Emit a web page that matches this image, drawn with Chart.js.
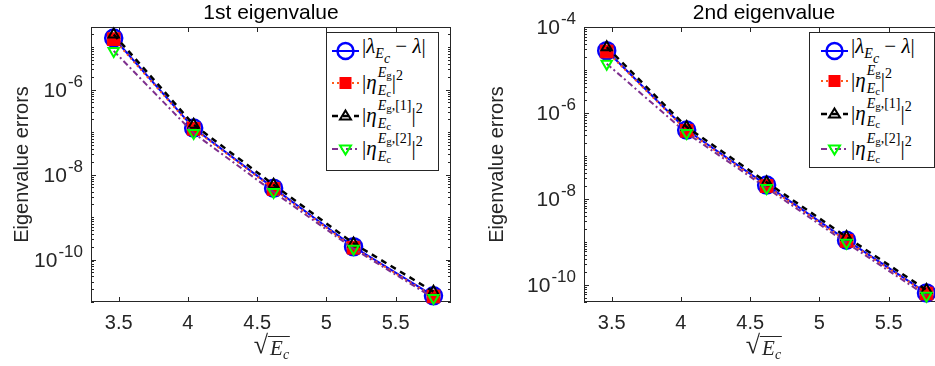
<!DOCTYPE html>
<html>
<head>
<meta charset="utf-8">
<script src="https://cdn.jsdelivr.net/npm/chart.js@4/dist/chart.umd.min.js"></script>
<style>
  html, body { margin: 0; padding: 0; background: #fff; overflow: hidden; width: 935px; height: 366px; }
  canvas { position: absolute; top: 0; }
  .leg { position: absolute; border: 1px solid #262626; background: #fff; box-sizing: border-box; }
  .row { position: absolute; left: 0; height: 32px; display: flex; align-items: center; }
  .row svg { flex: none; }
  .m { font-family: 'Liberation Serif', 'DejaVu Serif', serif; font-size: 21px; line-height: 1; white-space: nowrap; color: #000; margin-left: 3px; }
  .m sub { font-size: 14px; vertical-align: -5px; }
  .ss { display: inline-block; vertical-align: -6px; font-size: 14px; line-height: 15px; margin-left: 1px; }
  .ss span { display: block; }
  .ss sub { font-size: 11px; vertical-align: -2px; }
  .sq { font-size: 14px; vertical-align: 9px; }
  .xl { position: absolute; top: 332px; display: flex; align-items: flex-start; font-family: 'Liberation Serif', 'DejaVu Serif', serif; color: #262626; white-space: nowrap; transform: translateX(-50%); }
  .xl .rt { font-size: 26px; line-height: 26px; }
  .xl .rad { display: inline-block; margin-top: 4px; border-top: 1.3px solid #262626; padding: 1px 1px 0 2px; font-style: italic; font-size: 21px; line-height: 20px; }
  .xl sub { font-size: 14px; vertical-align: -4px; font-style: italic; }
</style>
</head>
<body>
<canvas id="c1" width="470" height="366" style="left:0px"></canvas>
<canvas id="c2" width="500" height="366" style="left:470px"></canvas>

<div class="xl" style="left:272px"><span class="rt">√</span><span class="rad">E<sub>c</sub></span></div>
<div class="xl" style="left:764px"><span class="rt">√</span><span class="rad">E<sub>c</sub></span></div>

<script>
// sqrt(E_c) values on the x axis
const sqrtEc = [3.4641, 4.0415, 4.6188, 5.1962, 5.7735];
const xTickValues = [3.5, 4, 4.5, 5, 5.5];

// 1st eigenvalue
const lambdaErr1 = [1.65e-5, 1.25e-7, 4.8e-9, 2.0e-10, 1.4e-11];
const etaG1 = [1.55e-5, 1.2e-7, 4.6e-9, 1.9e-10, 1.35e-11];
const etaG1Iter1 = [2.0e-5, 1.5e-7, 5.8e-9, 2.4e-10, 1.75e-11];
const etaG1Iter2 = [8.2e-6, 9.5e-8, 3.9e-9, 1.8e-10, 1.25e-11];
const yTickExp1 = [-10, -8, -6];

// 2nd eigenvalue
const lambdaErr2 = [2.8e-5, 4.0e-7, 2.1e-8, 1.1e-9, 6.5e-11];
const etaG2 = [2.7e-5, 3.85e-7, 2.0e-8, 1.06e-9, 6.3e-11];
const etaG2Iter1 = [3.4e-5, 4.7e-7, 2.45e-8, 1.3e-9, 7.6e-11];
const etaG2Iter2 = [1.4e-5, 3.4e-7, 1.8e-8, 0.95e-9, 5.6e-11];
const yTickExp2 = [-10, -8, -6, -4];

const axisColor = '#262626';
const sansFont = "'Liberation Sans', Arial, Helvetica, sans-serif";

function buildDatasets(lam, eg, eg1, eg2) {
  const pts = ys => sqrtEc.map((x, i) => ({ x: x, y: ys[i] }));
  return [
    { data: pts(lam), borderColor: '#0000ff', borderWidth: 2,
      pointStyle: 'circle', pointRadius: 8.5, pointBorderWidth: 2.5,
      pointBorderColor: '#0000ff', pointBackgroundColor: 'rgba(0,0,0,0)', order: 4, clip: false },
    { data: pts(eg), borderColor: '#ff5a1a', borderWidth: 2, borderDash: [2, 3],
      pointStyle: 'rect', pointRadius: 9, pointBorderWidth: 1,
      pointBorderColor: '#ff0000', pointBackgroundColor: '#ff0000', order: 3, clip: false },
    { data: pts(eg1), borderColor: '#000000', borderWidth: 2.5, borderDash: [6, 5],
      pointStyle: 'triangle', pointRadius: 6, pointBorderWidth: 2,
      pointBorderColor: '#000000', pointBackgroundColor: 'rgba(0,0,0,0)', order: 2, clip: false },
    { data: pts(eg2), borderColor: '#7e2f8e', borderWidth: 2, borderDash: [6, 3, 2, 3],
      pointStyle: 'triangle', pointRotation: 180, pointRadius: 6, pointBorderWidth: 2,
      pointBorderColor: '#00ff00', pointBackgroundColor: 'rgba(0,0,0,0)', order: 1, clip: false }
  ];
}

// MATLAB style box, inward ticks and labels
const axesBox = {
  id: 'axesBox',
  beforeDatasetsDraw(chart, args, opts) {
    const { ctx, chartArea: a, scales: { x, y } } = chart;
    ctx.save();
    ctx.strokeStyle = axisColor;
    ctx.lineWidth = 1;
    ctx.strokeRect(a.left + 0.5, a.top + 0.5, a.right - a.left - 1, a.bottom - a.top - 1);
    ctx.beginPath();
    xTickValues.forEach(v => {
      const px = Math.round(x.getPixelForValue(v)) + 0.5;
      ctx.moveTo(px, a.bottom); ctx.lineTo(px, a.bottom - 5);
      ctx.moveTo(px, a.top); ctx.lineTo(px, a.top + 5);
    });
    const lo = Math.floor(Math.log10(y.min)), hi = Math.ceil(Math.log10(y.max));
    for (let e = lo; e <= hi; e++) {
      for (let k = 1; k <= 9; k++) {
        const v = k * Math.pow(10, e);
        if (v < y.min || v > y.max) continue;
        const py = Math.round(y.getPixelForValue(v)) + 0.5;
        const len = (k === 1 && opts.exps.includes(e)) ? 5 : 3;
        ctx.moveTo(a.left, py); ctx.lineTo(a.left + len, py);
        ctx.moveTo(a.right, py); ctx.lineTo(a.right - len, py);
      }
    }
    ctx.stroke();
    ctx.restore();
  },
  afterDraw(chart, args, opts) {
    const { ctx, chartArea: a, scales: { x, y } } = chart;
    ctx.save();
    ctx.fillStyle = axisColor;
    // x tick labels
    ctx.font = '20px ' + sansFont;
    ctx.textAlign = 'center';
    ctx.textBaseline = 'alphabetic';
    xTickValues.forEach(v => ctx.fillText(String(v), x.getPixelForValue(v), a.bottom + 27));
    // y tick labels 10^n
    ctx.textAlign = 'left';
    opts.exps.forEach(e => {
      const py = y.getPixelForValue(Math.pow(10, e));
      ctx.font = '17px ' + sansFont;
      const sup = String(e);
      const ws = ctx.measureText(sup).width;
      ctx.font = '21px ' + sansFont;
      const wb = ctx.measureText('10').width + 1;
      const x0 = a.left - 8 - ws - wb;
      ctx.fillText('10', x0, py + 7);
      ctx.font = '17px ' + sansFont;
      ctx.fillText(sup, x0 + wb, py - 3);
    });
    // title
    ctx.fillStyle = '#000';
    ctx.font = '21px ' + sansFont;
    ctx.textAlign = 'center';
    ctx.fillText(opts.title, (a.left + a.right) / 2, 19);
    // y axis label
    ctx.fillStyle = axisColor;
    ctx.font = '20px ' + sansFont;
    ctx.translate(opts.yLabelX, (a.top + a.bottom) / 2);
    ctx.rotate(-Math.PI / 2);
    ctx.textBaseline = 'middle';
    ctx.fillText('Eigenvalue errors', 0, 0);
    ctx.restore();
  }
};

function makeChart(id, datasets, yMin, yMax, xMin, xMax, padding, title, exps, yLabelX) {
  return new Chart(document.getElementById(id), {
    type: 'line',
    data: { datasets: datasets },
    options: {
      responsive: false,
      animation: false,
      devicePixelRatio: 1,
      layout: { padding: padding },
      plugins: {
        legend: { display: false },
        tooltip: { enabled: false },
        axesBox: { title: title, exps: exps, yLabelX: yLabelX }
      },
      scales: {
        x: { type: 'linear', min: xMin, max: xMax, display: false },
        y: { type: 'logarithmic', min: yMin, max: yMax, display: false }
      }
    },
    plugins: [axesBox]
  });
}

makeChart('c1', buildDatasets(lambdaErr1, etaG1, etaG1Iter1, etaG1Iter2),
  1e-11, 3e-5, 3.3, 5.9, { left: 91, top: 27, right: 19, bottom: 64 },
  '1st eigenvalue', yTickExp1, 22);

makeChart('c2', buildDatasets(lambdaErr2, etaG2, etaG2Iter1, etaG2Iter2),
  4e-11, 1e-4, 3.3, 5.9, { left: 114, top: 27, right: 26, bottom: 64 },
  '2nd eigenvalue', yTickExp2, 27);

// legends (HTML so the math sub/superscripts stay real text)
const legendItems = [
  { svg: '<line x1="0" y1="10" x2="27" y2="10" stroke="#0000ff" stroke-width="2"/><circle cx="13.5" cy="10" r="8" fill="none" stroke="#0000ff" stroke-width="2.5"/>',
    html: '|<i>λ</i><sub><i>E<sub>c</sub></i></sub> − <i>λ</i>|' },
  { svg: '<line x1="0" y1="10" x2="27" y2="10" stroke="#ff5a1a" stroke-width="2" stroke-dasharray="2,3"/><rect x="7.5" y="4" width="12" height="12" fill="#ff0000"/>',
    html: '|<i>η</i><span class="ss"><span><i>E</i><sub>g</sub></span><span><i>E</i><sub>c</sub></span></span>|<sup class="sq">2</sup>' },
  { svg: '<line x1="0" y1="10" x2="27" y2="10" stroke="#000" stroke-width="2.5" stroke-dasharray="6,5"/><polygon points="13.5,4.5 19,13.5 8,13.5" fill="none" stroke="#000" stroke-width="2"/>',
    html: '|<i>η</i><span class="ss"><span><i>E</i><sub>g</sub>,[1]</span><span><i>E</i><sub>c</sub></span></span>|<sup class="sq">2</sup>' },
  { svg: '<line x1="0" y1="10" x2="27" y2="10" stroke="#7e2f8e" stroke-width="2" stroke-dasharray="6,3,2,3"/><polygon points="8,6.5 19,6.5 13.5,15.5" fill="none" stroke="#00ff00" stroke-width="2"/>',
    html: '|<i>η</i><span class="ss"><span><i>E</i><sub>g</sub>,[2]</span><span><i>E</i><sub>c</sub></span></span>|<sup class="sq">2</sup>' }
];

function makeLegend(left, top, width, height, padLeft, rowCenters) {
  const box = document.createElement('div');
  box.className = 'leg';
  box.style.left = left + 'px';
  box.style.top = top + 'px';
  box.style.width = width + 'px';
  box.style.height = height + 'px';
  legendItems.forEach((item, i) => {
    const row = document.createElement('div');
    row.className = 'row';
    row.style.top = (rowCenters[i] - 16) + 'px';
    row.style.left = padLeft + 'px';
    row.innerHTML = '<svg width="27" height="20" viewBox="0 0 27 20">' + item.svg + '</svg>' +
      '<span class="m">' + item.html + '</span>';
    box.appendChild(row);
  });
  document.body.appendChild(box);
}

makeLegend(326, 32, 113, 139, 5, [18, 50, 83, 116]);
makeLegend(809, 32, 126, 136, 11, [18, 48, 81, 116]);
</script>
</body>
</html>
